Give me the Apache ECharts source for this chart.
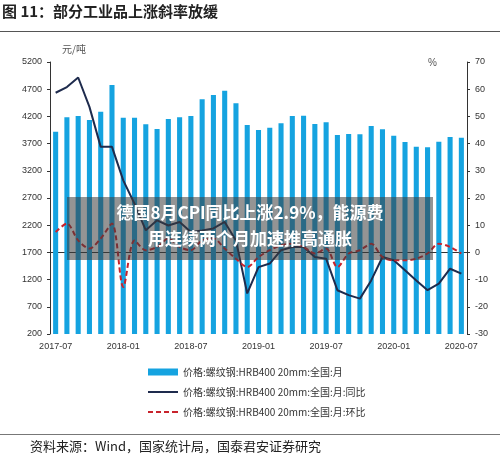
<!DOCTYPE html>
<html>
<head>
<meta charset="utf-8">
<script src="https://cdn.jsdelivr.net/npm/echarts@6/dist/echarts.min.js"></script>
<style>
html, body { margin: 0; padding: 0; background: #fff; }
#chart { width: 500px; height: 458px; }
</style>
</head>
<body>
<div id="chart"></div>
<script>
// 月份 2017-07 ~ 2020-07
var months = [];
for (var y = 2017, m = 7; y < 2020 || (y == 2020 && m <= 7); m++) {
    if (m > 12) { m = 1; y++; }
    months.push(y + '-' + (m < 10 ? '0' + m : m));
}

// 价格 元/吨
var price = [3920, 4184, 4208, 4134, 4287, 4777, 4177, 4177, 4055, 3969, 4153, 4184, 4208, 4515, 4594, 4673, 4441,
    4043, 3951, 3993, 4074, 4208, 4214, 4061, 4092, 3859, 3877, 3872, 4024, 3964, 3846, 3730, 3644, 3633, 3736, 3822, 3807];
// 同比 %
var yoy = [58.7, 60.8, 64.3, 53.5, 38.8, 38.8, 26.5, 17.9, 8.1, 11.8, 9.9, 11.2, 7.5, 8.1, 8.8, 11.2, 4.4,
    -15.1, -5.4, -4.1, 0.8, 2, 2, -1.7, -2.3, -13.9, -15.7, -17, -10.3, -1.7, -2.9, -6.6, -10.3, -13.9, -11.5, -6, -7.8];
// 环比 %
var mom = [7.5, 10.6, 4.4, 1.4, 5.1, 10.6, -12.7, 4.4, 0.8, 2, 5.1, 2, 0.8, 4.4, 5.1, 1.4, -2.3,
    -5.4, -1.7, 0.8, 2.6, 3.2, 2, -0.4, 1.4, -5.4, -0.4, 0.8, 3.2, -1.7, -2.9, -2.9, -2.3, -0.4, 3.2, 2, -0.4];

var names = ['价格:螺纹钢:HRB400 20mm:全国:月', '价格:螺纹钢:HRB400 20mm:全国:月:同比', '价格:螺纹钢:HRB400 20mm:全国:月:环比'];
var axisText = {color: '#333', fontSize: 9, fontFamily: 'Liberation Sans, sans-serif'};

var myChart = echarts.init(document.getElementById('chart'));
var option = {
    animation: false,
    grid: {left: 50, right: 33, top: 62, bottom: 124},
    legend: {
        orient: 'vertical',
        left: 143,
        top: 362,
        itemGap: 10,
        itemWidth: 30,
        itemHeight: 7,
        textStyle: {color: '#333', fontSize: 10, fontFamily: 'Noto Sans CJK SC'},
        data: [
            {name: names[0], icon: 'rect', itemStyle: {color: '#15a3e0'}},
            {name: names[1], icon: 'path://M0,3L30,3L30,5L0,5Z', itemStyle: {color: '#1e2b4d'}},
            {name: names[2], icon: 'path://M0,3L5,3L5,5L0,5ZM8,3L13,3L13,5L8,5ZM16,3L21,3L21,5L16,5ZM24,3L30,3L30,5L24,5Z', itemStyle: {color: '#c8232c'}}
        ]
    },
    xAxis: [{
        type: 'category',
        data: months,
        boundaryGap: true,
        axisLine: {lineStyle: {color: '#333'}},
        axisTick: {show: false},
        axisLabel: Object.assign({interval: 5, margin: 8}, axisText)
    }],
    yAxis: [{
        type: 'value', min: 200, max: 5200, interval: 500,
        name: '元/吨', nameGap: 8,
        nameTextStyle: {color: '#555', fontSize: 10, fontFamily: 'Noto Sans CJK SC', align: 'left', padding: [0, 0, 0, 12]},
        splitLine: {show: false},
        axisLine: {show: true, lineStyle: {color: '#333'}},
        axisTick: {show: true, length: 3, inside: false},
        axisLabel: Object.assign({formatter: function (v) { return String(v); }}, axisText)
    }, {
        type: 'value', min: -30, max: 70, interval: 10,
        name: '%', nameGap: -6,
        nameTextStyle: {color: '#555', fontSize: 10, align: 'right', padding: [0, 30, 0, 0]},
        splitLine: {show: false},
        axisLine: {show: true, lineStyle: {color: '#333'}},
        axisTick: {show: true, length: 3},
        axisLabel: axisText
    }],
    series: [{
        name: names[0],
        type: 'bar',
        data: price,
        barWidth: '45%',
        itemStyle: {color: '#15a3e0'}
    }, {
        name: names[1],
        type: 'line',
        yAxisIndex: 1,
        data: yoy,
        symbol: 'none',
        lineStyle: {color: '#1e2b4d', width: 2},
        itemStyle: {color: '#1e2b4d'}
    }, {
        name: names[2],
        type: 'line',
        yAxisIndex: 1,
        data: mom,
        symbol: 'none',
        smooth: 0.3,
        lineStyle: {color: '#c8232c', width: 2, type: [5, 3]},
        itemStyle: {color: '#c8232c'}
    }],
    graphic: [
        {type: 'text', left: 2, top: 4, style: {text: '图 11：部分工业品上涨斜率放缓', fill: '#222', font: 'bold 15px "Noto Sans CJK SC"'}},
        {type: 'rect', shape: {x: 0, y: 31, width: 500, height: 1}, style: {fill: '#555'}},
        {type: 'rect', shape: {x: 67, y: 197, width: 366, height: 63}, style: {fill: 'rgba(60,60,60,0.55)'}, z: 100},
        {type: 'text', x: 250, y: 204, z: 101, style: {text: '德国8月CPI同比上涨2.9%，能源费', fill: '#fff', align: 'center', font: 'bold 17px "Noto Sans CJK SC"'}},
        {type: 'text', x: 250, y: 230, z: 101, style: {text: '用连续两个月加速推高通胀', fill: '#fff', align: 'center', font: 'bold 17px "Noto Sans CJK SC"'}},
        {type: 'rect', shape: {x: 0, y: 434, width: 500, height: 1}, style: {fill: '#777'}},
        {type: 'text', left: 30, top: 440, style: {text: '资料来源：Wind，国家统计局，国泰君安证券研究', fill: '#222', font: '13px "Noto Sans CJK SC"'}}
    ]
};
myChart.setOption(option);
</script>
</body>
</html>
